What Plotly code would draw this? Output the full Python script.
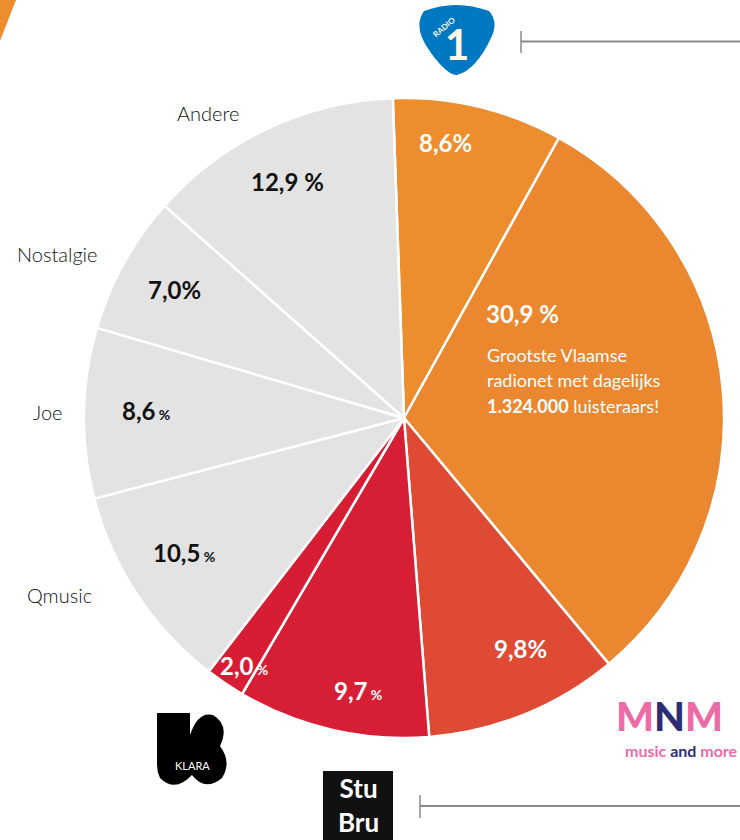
import plotly.graph_objects as go

W, H = 740, 840

# ---- data ----
stations = ["Radio 1", "Radio 2", "MNM", "Studio Brussel", "Klara",
            "Qmusic", "Joe", "Nostalgie", "Andere"]
shares = [8.6, 30.9, 9.8, 9.7, 2.0, 10.5, 8.6, 7.0, 12.9]
share_labels = ["8,6%", "30,9 %", "9,8%", "9,7 %", "2,0%", "10,5 %", "8,6%", "7,0%", "12,9 %"]
slice_colors = ["#EC8E2E", "#EA872F", "#DE4A34", "#D61F35", "#D61D34",
                "#E3E3E3", "#E3E3E3", "#E3E3E3", "#E3E3E3"]
outside_names = ["Andere", "Nostalgie", "Joe", "Qmusic"]

# ---- helpers for pixel -> paper ----
def px(x):
    return x / W

def py(y):
    return 1 - y / H

cx, cy, r = 404, 418, 320

fig = go.Figure()
fig.add_trace(go.Pie(
    labels=stations,
    values=shares,
    sort=False,
    direction="clockwise",
    rotation=-2,
    marker=dict(colors=slice_colors, line=dict(color="white", width=2.5)),
    textinfo="none",
    hoverinfo="label+percent",
    domain=dict(x=[px(cx - r), px(cx + r)], y=[py(cy + r), py(cy - r)]),
    showlegend=False,
))

FONT_B = "Lato"
annotations = []

def pct_text(lbl, small):
    if small and "%" in lbl:
        num = lbl.replace(" %", "").replace("%", "")
        return f"<b>{num}</b><span style='font-size:14px'><b> %</b></span>"
    return f"<b>{lbl}</b>"

# label positions (pixel centres) and whether % is small
label_pos = [(445, 142, False), (522, 313, False), (520, 648, False), (358, 690, True),
             (244, 665, True), (184, 552, True), (146, 410, True), (174, 289, False),
             (287, 181, False)]
for i, (x, y, small) in enumerate(label_pos):
    col = "white" if i < 5 else "#111111"
    annotations.append(dict(x=px(x), y=py(y), xref="paper", yref="paper",
                            text=pct_text(share_labels[i], small), showarrow=False,
                            font=dict(family=FONT_B, size=24, color=col),
                            xanchor="center", yanchor="middle"))

# description text in Radio 2 slice
desc = ["Grootste Vlaamse", "radionet met dagelijks", "<b>1.324.000</b> luisteraars!"]
for k, line in enumerate(desc):
    annotations.append(dict(x=px(485), y=py(355 + 25.5 * k), xref="paper", yref="paper",
                            text=line, showarrow=False,
                            font=dict(family=FONT_B, size=18, color="white"),
                            xanchor="left", yanchor="middle"))

# outside category names
name_pos = [(208, 113), (57, 254), (47, 412), (59, 595)]
for name, (x, y) in zip(outside_names, name_pos):
    annotations.append(dict(x=px(x), y=py(y), xref="paper", yref="paper",
                            text=name, showarrow=False,
                            font=dict(family="Lato", size=20, color="#111111", weight=300),
                            xanchor="center", yanchor="middle"))

# logos approximated with text
annotations.append(dict(x=px(457), y=py(44), xref="paper", yref="paper", text="<b>1</b>",
                        showarrow=False, font=dict(family="Lato", size=42, color="#FFF8E6"),
                        xanchor="center", yanchor="middle"))
annotations.append(dict(x=px(444), y=py(27), xref="paper", yref="paper", text="<b>RADIO</b>",
                        showarrow=False, textangle=-40,
                        font=dict(family="Lato", size=8, color="#FFF8E6"),
                        xanchor="center", yanchor="middle"))
annotations.append(dict(x=px(192), y=py(765), xref="paper", yref="paper", text="KLARA",
                        showarrow=False, font=dict(family="Lato", size=11, color="white"),
                        xanchor="center", yanchor="middle"))
annotations.append(dict(x=px(358), y=py(805), xref="paper", yref="paper", text="<b>Stu<br>Bru</b>",
                        showarrow=False, font=dict(family="Lato", size=26, color="white", weight=900),
                        xanchor="center", yanchor="middle"))
annotations.append(dict(x=px(669), y=py(716), xref="paper", yref="paper",
                        text="<span style='color:#EC6BA6'>M</span><span style='color:#2C2D72'>N</span><span style='color:#EC6BA6'>M</span>",
                        showarrow=False, font=dict(family="Lato", size=40, color="#EC6BA6", weight=900),
                        xanchor="center", yanchor="middle"))
annotations.append(dict(x=px(740), y=py(750), xref="paper", yref="paper",
                        text="<b><span style='color:#EC6BA6'>music </span><span style='color:#2C2D72'>and </span><span style='color:#EC6BA6'>more</span></b>",
                        showarrow=False, font=dict(family="Lato", size=16),
                        xanchor="right", yanchor="middle"))

shapes = []
# top-left orange corner
shapes.append(dict(type="path", xref="paper", yref="paper",
                   path=f"M {px(0)},{py(0)} L {px(16)},{py(0)} L {px(0)},{py(41)} Z",
                   fillcolor="#EC8E2E", line=dict(width=0)))
# Radio 1 logo body (rounded triangle)
shapes.append(dict(type="path", xref="paper", yref="paper",
                   path=(f"M {px(424)},{py(11)} Q {px(456)},{py(-1)} {px(489)},{py(11)} "
                         f"Q {px(499)},{py(22)} {px(491)},{py(38)} "
                         f"Q {px(476)},{py(70)} {px(457)},{py(75)} "
                         f"Q {px(447)},{py(75)} {px(431)},{py(53)} "
                         f"Q {px(412)},{py(28)} {px(424)},{py(11)} Z"),
                   fillcolor="#0078C1", line=dict(width=0)))
# connector lines
shapes.append(dict(type="line", xref="paper", yref="paper", x0=px(521), x1=px(740),
                   y0=py(41.5), y1=py(41.5), line=dict(color="#8a8a8a", width=2)))
shapes.append(dict(type="line", xref="paper", yref="paper", x0=px(521), x1=px(521),
                   y0=py(31), y1=py(53), line=dict(color="#8a8a8a", width=1.5)))
shapes.append(dict(type="line", xref="paper", yref="paper", x0=px(420), x1=px(740),
                   y0=py(806), y1=py(806), line=dict(color="#8a8a8a", width=2)))
shapes.append(dict(type="line", xref="paper", yref="paper", x0=px(420), x1=px(420),
                   y0=py(795), y1=py(818), line=dict(color="#8a8a8a", width=1.5)))
# Klara logo (black K-like blob)
shapes.append(dict(type="path", xref="paper", yref="paper",
                   path=(f"M {px(157)},{py(713)} L {px(190)},{py(713)} L {px(190)},{py(735)} "
                         f"Q {px(198)},{py(711)} {px(213)},{py(715)} "
                         f"Q {px(230)},{py(725)} {px(220)},{py(746)} "
                         f"Q {px(232)},{py(762)} {px(222)},{py(778)} "
                         f"Q {px(205)},{py(792)} {px(192)},{py(775)} "
                         f"Q {px(175)},{py(793)} {px(160)},{py(778)} "
                         f"Q {px(157)},{py(772)} {px(157)},{py(765)} Z"),
                   fillcolor="black", line=dict(width=0)))
# Stu Bru square
shapes.append(dict(type="rect", xref="paper", yref="paper", x0=px(323), x1=px(393),
                   y0=py(840), y1=py(771), fillcolor="#111111", line=dict(width=0)))

fig.update_layout(
    width=W, height=H,
    margin=dict(l=0, r=0, t=0, b=0),
    paper_bgcolor="white", plot_bgcolor="white",
    annotations=annotations, shapes=shapes,
)
fig.write_html("out.html")
